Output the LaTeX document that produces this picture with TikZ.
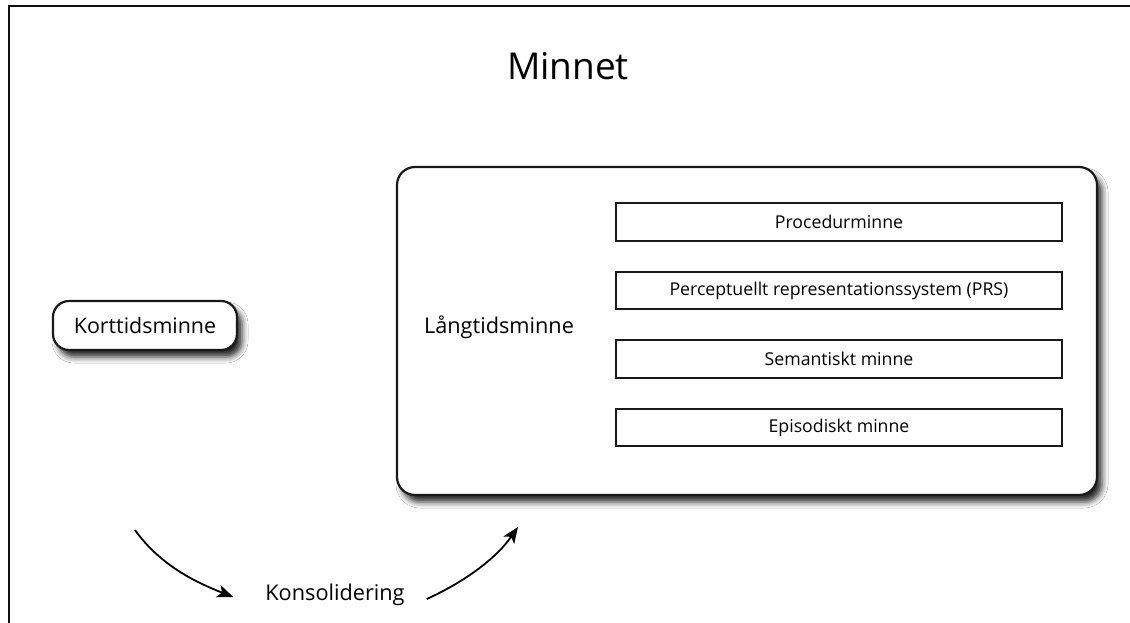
\documentclass[tikz,border=0pt]{standalone}
\usepackage{fontspec}
\setmainfont{Open Sans}
\usetikzlibrary{arrows.meta,positioning,shadows,shadows.blur}
\definecolor{framecol}{RGB}{15,15,15}
\definecolor{linecol}{RGB}{25,25,25}
\tikzset{
  basebox/.style={rectangle,draw=linecol,fill=white,align=center},
  softshadow/.style={blur shadow={shadow xshift=5pt,shadow yshift=-7pt,shadow blur radius=6pt,shadow opacity=85}},
  shortnode/.style={basebox,softshadow,line width=2.2pt,rounded corners=16pt,minimum width=184pt,minimum height=49pt,font=\fontsize{21.4}{25}\selectfont},
  longnode/.style={basebox,softshadow,line width=2.2pt,rounded corners=18pt,minimum width=700pt,minimum height=328pt},
  memnode/.style={basebox,line width=2pt,minimum width=446pt,minimum height=37.5pt,font=\fontsize{17.7}{21}\selectfont},
  labelnode/.style={font=\fontsize{21.7}{25}\selectfont},
  titlenode/.style={font=\fontsize{37}{43}\selectfont},
  arr/.style={-{Stealth[length=16pt,width=13pt,inset=4pt]},line width=1.8pt,color=black}
}

\begin{document}
\begin{tikzpicture}[x=1pt,y=-1pt]
  \useasboundingbox (0,0) rectangle (1130,623);
  \fill[white] (0,0) rectangle (1130,623);
  %% frame
  \draw[framecol,line width=2.6pt] (9,623) -- (9,6) -- (1130,6);

  \node[titlenode] (title) at (568,66) {Minnet};

  \node[shortnode] (kort) at (145,325.5) {Korttidsminne};
  \node[longnode] (lang) at (747,331) {};
  \node[labelnode] (langlbl) at (499,327) {Långtidsminne};

  %% memory systems
  \node[memnode] (proc) at (839,222) {Procedurminne};
  \node[memnode,below=29pt of proc] (prs) {Perceptuellt representationssystem (PRS)};
  \node[memnode,below=29pt of prs] (sem) {Semantiskt minne};
  \node[memnode,below=29pt of sem] (epi) {Episodiskt minne};

  %% consolidation
  \node[labelnode,inner xsep=32pt] (kons) at (335,595) {Konsolidering};
  \coordinate (a1) at (135,530);
  \coordinate (a2) at (518,527);
  \draw[arr] (a1) .. controls (160,565) and (195,582) .. ([yshift=-2pt]kons.west);
  \draw[arr] ([xshift=-10pt,yshift=-4pt]kons.east) .. controls (462,583) and (495,560) .. (a2);
\end{tikzpicture}
\end{document}
